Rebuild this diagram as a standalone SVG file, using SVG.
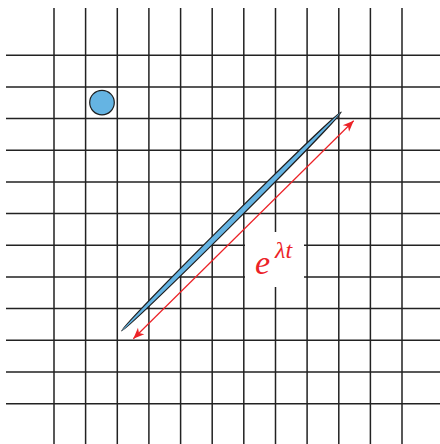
<svg xmlns="http://www.w3.org/2000/svg" width="440" height="444" viewBox="0 0 440 444">
<style>
.grid{stroke:#222;stroke-width:1.5;fill:none}
.blob{fill:#65b4e3;stroke:#1e1e1e;stroke-width:1.2}
.arr{stroke:#ec2227;stroke-width:1.2;fill:none}
.lbl{fill:#ec2227;font-family:"Liberation Serif","DejaVu Serif",serif;font-style:italic}
</style>
<defs>
<marker id="ah" markerUnits="userSpaceOnUse" markerWidth="16" markerHeight="12" viewBox="-12 -6 13 12" refX="0" refY="0" orient="auto-start-reverse">
<path d="M0,0 L-11,-4.5 L-8,0 L-11,4.5 Z" fill="#ec2227"/>
</marker>
</defs>
<rect width="440" height="444" fill="#fff"/>
<g id="grid" class="grid">
<path d="M54,8V444M85.6,8V444M117.3,8V444M148.9,8V444M180.6,8V444M212.2,8V444M243.8,8V444M275.5,8V444M307.1,8V444M338.8,8V444M370.4,8V444M402,8V444"/>
<path d="M6,55.3H440M6,87H440M6,118.6H440M6,150.3H440M6,182H440M6,213.6H440M6,245.3H440M6,277H440M6,308.6H440M6,340.3H440M6,372H440M6,403.7H440"/>
</g>
<g id="ball">
<circle class="blob" cx="102" cy="102.6" r="12.3"/>
</g>
<g id="ellipse">
<ellipse class="blob" cx="231.4" cy="221.5" rx="155" ry="3" transform="rotate(-44.9 231.4 221.5)"/>
</g>
<g id="connectors">
<line class="arr" x1="133.3" y1="338.7" x2="353.7" y2="120.7" marker-start="url(#ah)" marker-end="url(#ah)"/>
</g>
<g id="label">
<rect x="245" y="232" width="59" height="55" fill="#fff"/>
<text class="lbl" x="255" y="273.5" font-size="34">e</text>
<text class="lbl" x="275" y="257.5" font-size="24">λt</text>
</g>
</svg>
